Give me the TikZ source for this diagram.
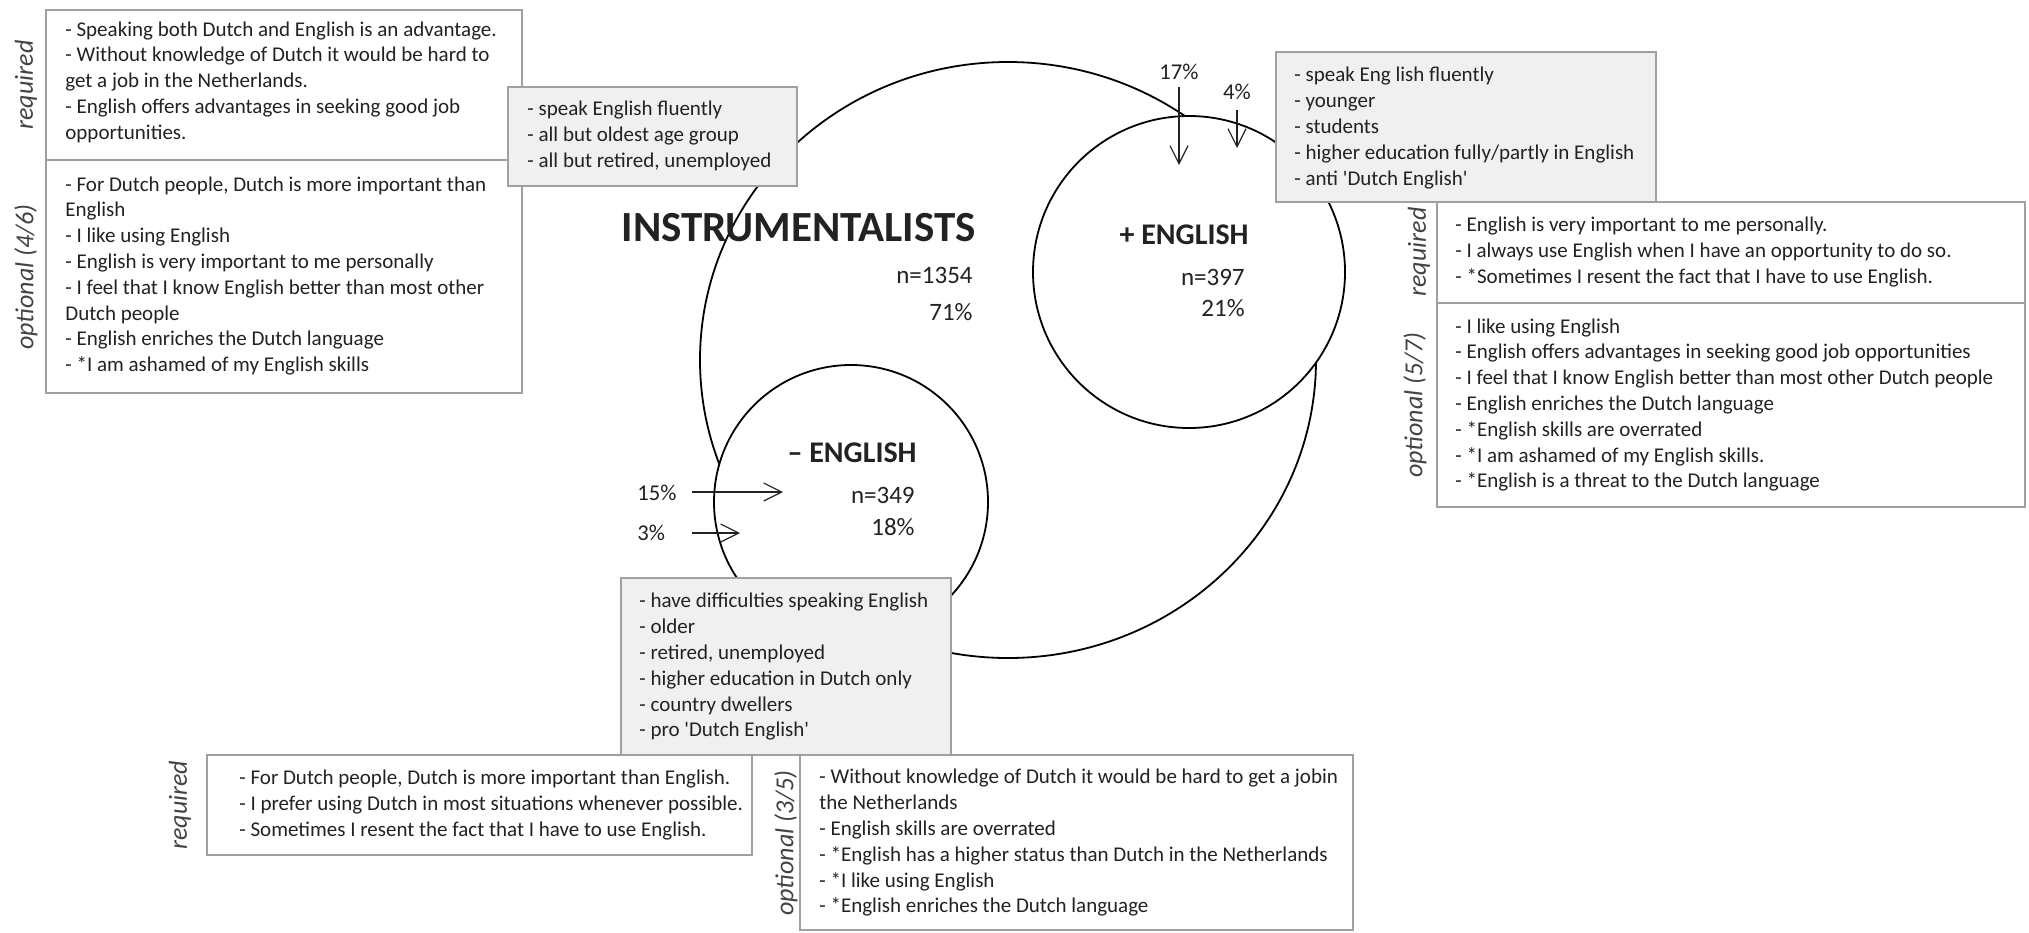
\documentclass[tikz,border=0pt]{standalone}
\usepackage{fontspec}
\setmainfont{Carlito}
\usetikzlibrary{arrows.meta,fit,shapes.geometric}
\definecolor{boxline}{HTML}{A0A0A0}
\definecolor{boxfill}{HTML}{F0F0F0}
\definecolor{ink}{HTML}{222222}
\begin{document}
\begin{tikzpicture}[x=0.5pt,y=-0.5pt,
  body/.style={font=\fontsize{10.5}{12.9}\selectfont, text=ink, align=left, inner sep=0pt, anchor=west},
  wbox/.style={draw=boxline, line width=0.75pt, fill=white, inner sep=0pt},
  gbox/.style={draw=boxline, line width=0.75pt, fill=boxfill, inner sep=0pt},
  tag/.style={font=\fontsize{13}{15}\selectfont\itshape, text=ink!85, rotate=90, inner sep=0pt},
  ring/.style={draw=black, line width=0.9pt, fill=white, inner sep=0pt},
  title/.style={font=\fontsize{21.5}{24}\selectfont\bfseries, text=ink, inner sep=0pt, anchor=east},
  sub/.style={font=\fontsize{15}{18}\selectfont\bfseries, text=ink, inner sep=0pt, anchor=east},
  num/.style={font=\fontsize{12.5}{15}\selectfont, text=ink, inner sep=0pt, anchor=east},
  pct/.style={font=\fontsize{11.3}{13}\selectfont, text=ink, inner sep=0pt},
  arr/.style={-{Straight Barb[length=9pt,width=9pt]}, line width=0.6pt, draw=ink}
]
\useasboundingbox (0,0) rectangle (2029,932);
\fill[white] (0,0) rectangle (2029,932);

% circles
\node[ring, ellipse, minimum width=308pt, minimum height=298pt] (big) at (1008,360) {};
\node[ring, circle, minimum size=156pt] (plus) at (1189,272) {};
\node[ring, circle, minimum size=137pt] (minus) at (851,502) {};

% circle labels
\node[title] (instr) at (976,228) {INSTRUMENTALISTS};
\node[num] (n1) at (973,275) {n=1354};
\node[num] (p1) at (973,312) {71\%};
\node[sub] (plust) at (1249,235) {+ ENGLISH};
\node[num] (n2) at (1245,277) {n=397};
\node[num] (p2) at (1245,308) {21\%};
\node[sub] (minust) at (917,453) {– ENGLISH};
\node[num] (n3) at (915,495) {n=349};
\node[num] (p3) at (915,527) {18\%};

% percentage arrows
\node[pct] (a17) at (1179,72) {17\%};
\node[pct] (a4) at (1237,92) {4\%};
\node[pct, anchor=west] (a15) at (637,493) {15\%};
\node[pct, anchor=west] (a3) at (637,533) {3\%};
\coordinate (s17) at (1179,87);  \coordinate (e17) at (1179,165);
\coordinate (s4) at (1237,110);  \coordinate (e4) at (1237,148);
\coordinate (s15) at (692,492);  \coordinate (e15) at (783,492);
\coordinate (s3) at (692,533);   \coordinate (e3) at (740,533);
\draw[arr] (s17) -- (e17);
\draw[arr] (s4) -- (e4);
\draw[arr] (s15) -- (e15);
\draw[arr] (s3) -- (e3);

% top-left boxes
\node[wbox, fit={(46,10) (522,160)}] (tlreq) {};
\node[wbox, fit={(46,160) (522,393)}] (tlopt) {};
\node[body] (tlreqt) at (65,82) {- Speaking both Dutch and English is an advantage.\\
- Without knowledge of Dutch it would be hard to\\
get a job in the Netherlands.\\
- English offers advantages in seeking good job\\
opportunities.};
\node[body] (tloptt) at (65,276) {- For Dutch people, Dutch is more important than\\
English\\
- I like using English\\
- English is very important to me personally\\
- I feel that I know English better than most other\\
Dutch people\\
- English enriches the Dutch language\\
- *I am ashamed of my English skills};
\node[tag] (tlreqk) at (26,85) {required};
\node[tag] (tloptk) at (26,277) {optional (4/6)};

% gray box 1
\node[gbox, fit={(508,87) (797,186)}] (g1) {};
\node[body] (g1t) at (527,136) {- speak English fluently\\
- all but oldest age group\\
- all but retired, unemployed};

% right boxes
\node[wbox, fit={(1437,202) (2025,303)}] (rreq) {};
\node[wbox, fit={(1437,303) (2025,507)}] (ropt) {};
\node[body] (rreqt) at (1455,252) {- English is very important to me personally.\\
- I always use English when I have an opportunity to do so.\\
- *Sometimes I resent the fact that I have to use English.};
\node[body] (roptt) at (1455,405) {- I like using English\\
- English offers advantages in seeking good job opportunities\\
- I feel that I know English better than most other Dutch people\\
- English enriches the Dutch language\\
- *English skills are overrated\\
- *I am ashamed of my English skills.\\
- *English is a threat to the Dutch language};
\node[tag] (rreqk) at (1419,252) {required};
\node[tag] (roptk) at (1415,405) {optional (5/7)};

% gray box 2
\node[gbox, fit={(1276,52) (1656,202)}] (g2) {};
\node[body] (g2t) at (1294,128) {- speak Eng lish fluently\\
- younger\\
- students\\
- higher education fully/partly in English\\
- anti \textquotesingle Dutch English\textquotesingle};

% bottom boxes
\node[wbox, fit={(207,755) (752,855)}] (breq) {};
\node[body] (breqt) at (239,805) {- For Dutch people, Dutch is more important than English.\\
- I prefer using Dutch in most situations whenever possible.\\
- Sometimes I resent the fact that I have to use English.};
\node[tag] (breqk) at (180,805) {required};
\node[wbox, fit={(800,755) (1353,930)}] (bopt) {};
\node[body] (boptt) at (819,843) {- Without knowledge of Dutch it would be hard to get a jobin\\
the Netherlands\\
- English skills are overrated\\
- *English has a higher status than Dutch in the Netherlands\\
- *I like using English\\
- *English enriches the Dutch language};
\node[tag] (boptk) at (786,843) {optional (3/5)};

% gray box 3
\node[gbox, fit={(621,578) (951,755)}] (g3) {};
\node[body] (g3t) at (639,667) {- have difficulties speaking English\\
- older\\
- retired, unemployed\\
- higher education in Dutch only\\
- country dwellers\\
- pro \textquotesingle Dutch English\textquotesingle};
\end{tikzpicture}
\end{document}
